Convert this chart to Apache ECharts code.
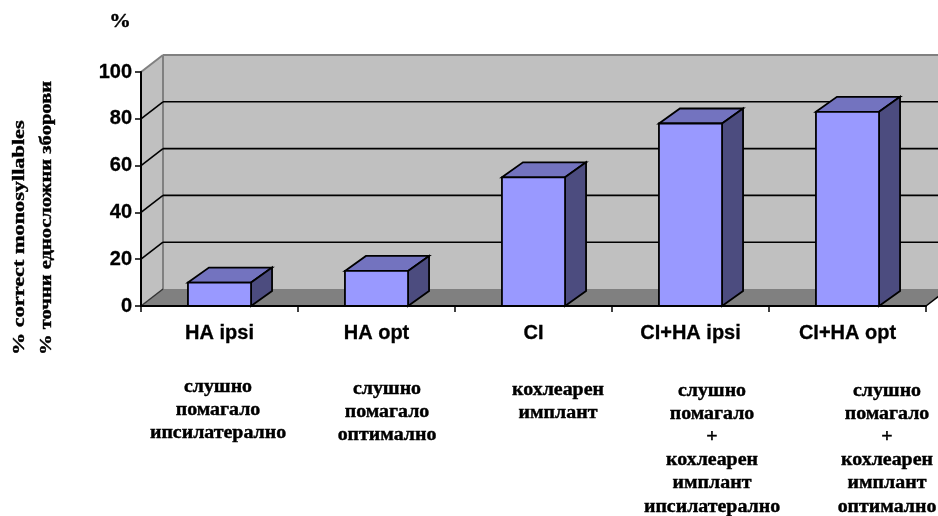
<!DOCTYPE html>
<html><head><meta charset="utf-8">
<style>html,body{margin:0;padding:0;background:#fff}#c{width:938px;height:516px}</style>
<script src="https://cdn.jsdelivr.net/npm/echarts@6/dist/echarts.min.js"></script>
</head><body><div id="c"></div>
<script>
var categories = ['HA ipsi','HA opt','CI','CI+HA ipsi','CI+HA opt'];
var values = [10,15,55,78,83];
var gridTicks = [20,40,60,80,100];
var notes = [
  ['слушно','помагало','ипсилатерално'],
  ['слушно','помагало','оптимално'],
  ['кохлеарен','имплант'],
  ['слушно','помагало','+','кохлеарен','имплант','ипсилатерално'],
  ['слушно','помагало','+','кохлеарен','имплант','оптимално']
];
var noteX = [218,387,558,712,887];
var noteY = [387,389,390,391,391];
var yTitleA = '% correct monosyllables';
var yTitleB = '% точни едносложни зборови';

var WX=22, WY=17, BX=21, BY=15;
var chart = echarts.init(document.getElementById('c'),null,{renderer:'canvas'});
var serif='"Liberation Serif","Times New Roman",serif', sans='"Liberation Sans",Arial,sans-serif';

function poly(pts,fill,stroke,w){return {type:'polygon',shape:{points:pts},style:{fill:fill,stroke:stroke||null,lineWidth:w||0}};}
function line(x1,y1,x2,y2,c,w){return {type:'line',shape:{x1:x1,y1:y1,x2:x2,y2:y2},style:{stroke:c,lineWidth:w}};}
function txt(x,y,sx,rot,t,size,align){
  return {type:'text',x:x,y:y,scaleX:sx,rotation:rot,style:{text:t,font:'bold '+size+'px '+serif,fill:'#000',stroke:'#000',lineWidth:0.4,align:align,verticalAlign:'middle'}};
}

var graphics=[];
graphics.push(txt(120,22,1.2,0,'%',18,'center'));
graphics.push(txt(20,355,1.31,Math.PI/2,yTitleA,17,'left'));
graphics.push(txt(47,355,1.21,Math.PI/2,yTitleB,17,'left'));
notes.forEach(function(ls,i){ls.forEach(function(t,j){
  graphics.push(txt(noteX[i],noteY[i]+j*23.2,1.105,0,t,18,'center'));
});});

chart.setOption({
  animation:false,
  backgroundColor:'#fff',
  grid:{left:141,width:785,top:72,height:234,containLabel:false},
  xAxis:{type:'category',data:categories,z:5,
    axisLine:{lineStyle:{color:'#000',width:2}},
    axisTick:{show:true,length:6,lineStyle:{color:'#000',width:1.5}},
    axisLabel:{color:'#000',fontFamily:sans,fontWeight:'bold',fontSize:20,margin:17,interval:0,textBorderColor:'#000',textBorderWidth:0.3},splitLine:{show:false}},
  yAxis:{type:'value',min:0,max:100,interval:20,z:5,
    axisLine:{show:true,lineStyle:{color:'#000',width:2}},
    axisTick:{show:true,length:6,lineStyle:{color:'#000',width:1.5}},
    axisLabel:{color:'#000',fontFamily:sans,fontWeight:'bold',fontSize:20,margin:9,textBorderColor:'#000',textBorderWidth:0.3},splitLine:{show:false}},
  graphic:graphics,
  series:[
    {type:'custom',z:1,silent:true,data:[0],renderItem:function(p,api){
      var c=p.coordSys,l=c.x,r=c.x+c.width,t=c.y,b=c.y+c.height;
      return {type:'group',children:[
        poly([[l+WX,t-WY],[r+WX,t-WY],[r+WX,b-WY],[l+WX,b-WY]],'#C0C0C0'),
        poly([[l,t],[l+WX,t-WY],[l+WX,b-WY],[l,b]],'#C0C0C0'),
        poly([[l,b],[l+WX,b-WY],[r+WX,b-WY],[r,b]],'#808080'),
        line(l,t,l+WX,t-WY,'#808080',2),
        line(l+WX,t-WY,r+WX,t-WY,'#808080',2),
        line(l+WX,t-WY,l+WX,b-WY,'#808080',2),
        line(r,b,r+WX,b-WY,'#000',1.5),
        line(l,b,l+WX,b-WY,'#333',1.5)
      ]};
    }},
    {type:'custom',z:2,silent:true,data:gridTicks.map(function(v){return [0,v];}),encode:{y:1},renderItem:function(p,api){
      var c=p.coordSys,y=api.coord([0,api.value(1)])[1];
      if(api.value(1)>=100) return {type:'group',children:[]};
      return {type:'group',children:[
        line(c.x,y,c.x+WX,y-WY,'#000',1.6),
        line(c.x+WX,y-WY,c.x+c.width+WX,y-WY,'#000',1.6)
      ]};
    }},
    {type:'custom',z:3,silent:true,data:values.map(function(v,i){return [i,v];}),encode:{x:0,y:1},renderItem:function(p,api){
      var top=api.coord([api.value(0),api.value(1)]),base=api.coord([api.value(0),0]);
      var w=api.size([1,0])[0]*0.402,l=top[0]-w/2,r=top[0]+w/2,t=top[1],b=base[1];
      var k='#000',s=1.8;
      return {type:'group',children:[
        poly([[l,t],[l+BX,t-BY],[r+BX,t-BY],[r,t]],'#7373BF',k,s),
        poly([[r,t],[r+BX,t-BY],[r+BX,b-BY],[r,b]],'#4C4C7F',k,s),
        poly([[l,t],[r,t],[r,b],[l,b]],'#9999FF',k,s)
      ]};
    }}
  ]
});
</script></body></html>
